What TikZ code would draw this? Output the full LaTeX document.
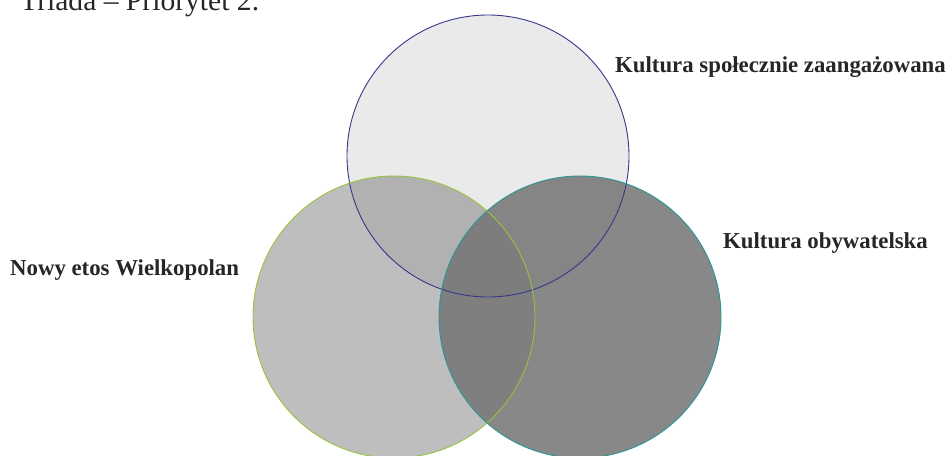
\documentclass[tikz,border=0pt]{standalone}
\usepackage{fontspec}
\setmainfont{Liberation Serif}
\definecolor{txt}{RGB}{38,38,38}
\definecolor{topline}{RGB}{52,56,140}
\definecolor{leftline}{RGB}{150,196,60}
\definecolor{rightline}{RGB}{40,150,150}
\definecolor{topfill}{RGB}{234,234,234}
\definecolor{leftfill}{RGB}{92,92,92}
\definecolor{rightfill}{RGB}{118,118,118}
\begin{document}
\begin{tikzpicture}[x=1pt,y=-1pt,
  ring/.style={circle,minimum size=282pt,inner sep=0pt},
  rim/.style={line width=0.9pt},
  lab/.style={anchor=base west,inner sep=0pt,text=txt,font=\fontsize{22.8}{26}\selectfont\bfseries}]
\useasboundingbox (0,0) rectangle (947,455);
\node[ring,fill=topfill] (top) at (488,156) {};
\node[ring,fill=leftfill,fill opacity=0.4] (left) at (394,317) {};
\node[ring,fill=rightfill,fill opacity=0.87] (right) at (580,317) {};
\draw[rim,topline] (top.center) circle[radius=141pt];
\draw[rim,leftline] (left.center) circle[radius=141pt];
\draw[rim,rightline] (right.center) circle[radius=141pt];
\node[anchor=base west,inner sep=0pt,text=txt,font=\fontsize{29.6}{33}\selectfont] (title) at (20,10) {Triada – Priorytet 2.};
\node[lab] (l1) at (615,72) {Kultura społecznie zaangażowana};
\node[lab] (l2) at (723,248) {Kultura obywatelska};
\node[lab] (l3) at (10,275) {Nowy etos Wielkopolan};
\end{tikzpicture}
\end{document}
